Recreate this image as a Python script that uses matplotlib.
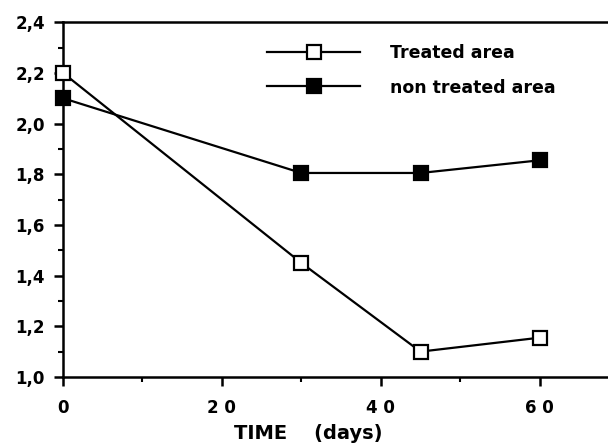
import matplotlib
matplotlib.use("Agg")
import matplotlib.pyplot as plt
from matplotlib.ticker import MultipleLocator, FixedLocator

plt.rcParams['font.family'] = ['DejaVu Sans']

days = [0, 30, 45, 60]
treated = [2.20, 1.45, 1.10, 1.155]
non_treated = [2.10, 1.805, 1.805, 1.855]
series_labels = ["Treated area", "non treated area"]
x_ticks = [0, 20, 40, 60]
x_tick_labels = ["0", "2 0", "4 0", "6 0"]
y_ticks = [1.0, 1.2, 1.4, 1.6, 1.8, 2.0, 2.2, 2.4]
y_tick_labels = ["1,0", "1,2", "1,4", "1,6", "1,8", "2,0", "2,2", "2,4"]

fig = plt.figure(figsize=(6.08, 4.44), dpi=100)
ax = fig.add_axes([0.1036, 0.151, 0.8964, 0.799])

ax.plot(days, treated, color='black', lw=1.6, marker='s', ms=10,
        mfc='white', mec='black', mew=1.6, label=series_labels[0], clip_on=False, zorder=3)
ax.plot(days, non_treated, color='black', lw=1.6, marker='s', ms=10,
        mfc='black', mec='black', mew=1.6, label=series_labels[1], clip_on=False, zorder=3)

ax.set_xlim(0, 68.6)
ax.set_ylim(1.0, 2.4)
ax.xaxis.set_major_locator(FixedLocator(x_ticks))
ax.set_xticklabels(x_tick_labels)
ax.xaxis.set_minor_locator(MultipleLocator(10))
ax.yaxis.set_major_locator(FixedLocator(y_ticks))
ax.set_yticklabels(y_tick_labels)
ax.yaxis.set_minor_locator(MultipleLocator(0.1))

for s in ['left', 'bottom', 'top']:
    ax.spines[s].set_linewidth(1.8)
ax.spines['right'].set_visible(False)

ax.tick_params(which='major', direction='out', length=6.5, width=1.8, labelsize=12)
ax.tick_params(which='minor', direction='out', length=3.5, width=1.5)
ax.tick_params(axis='x', which='major', pad=9.5)
ax.tick_params(axis='y', which='major', pad=6.5)
ax.tick_params(top=False, right=False, which='both')
for lab in ax.get_xticklabels() + ax.get_yticklabels():
    lab.set_fontweight('bold')

ax.set_xlabel("TIME    (days)", fontsize=14, fontweight='bold', labelpad=5, x=0.45)

leg = ax.legend(loc='upper left', bbox_to_anchor=(0.346, 0.983), frameon=False,
                handlelength=5.35, handletextpad=1.7, labelspacing=0.96,
                borderpad=0.4, prop={'size': 12.5, 'weight': 'bold'})

fig.savefig("out.png", dpi=100)
